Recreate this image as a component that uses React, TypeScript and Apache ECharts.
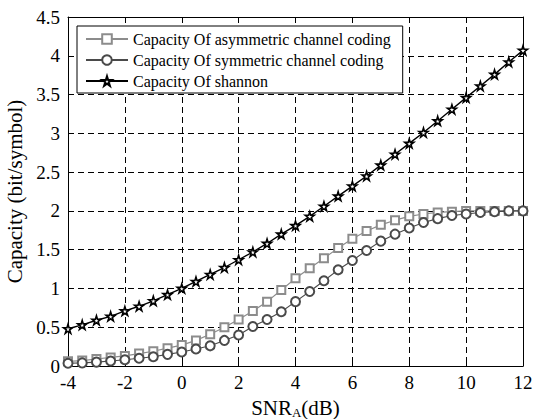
import React, { useEffect, useRef } from "react";
import * as echarts from "echarts";

const snr = [-4, -3.5, -3, -2.5, -2, -1.5, -1, -0.5, 0, 0.5, 1, 1.5, 2, 2.5, 3, 3.5, 4, 4.5, 5, 5.5, 6, 6.5, 7, 7.5, 8, 8.5, 9, 9.5, 10, 10.5, 11, 11.5, 12];
const asymCap = [0.06, 0.07, 0.09, 0.11, 0.13, 0.16, 0.19, 0.23, 0.27, 0.33, 0.41, 0.5, 0.6, 0.71, 0.83, 0.98, 1.13, 1.26, 1.39, 1.52, 1.64, 1.74, 1.82, 1.88, 1.93, 1.96, 1.98, 1.99, 2.0, 2.0, 2.0, 2.0, 2.0];
const symCap = [0.035, 0.04, 0.05, 0.065, 0.08, 0.1, 0.12, 0.15, 0.18, 0.22, 0.26, 0.33, 0.4, 0.51, 0.6, 0.7, 0.83, 0.96, 1.1, 1.24, 1.36, 1.49, 1.61, 1.7, 1.78, 1.85, 1.9, 1.94, 1.96, 1.98, 1.99, 2.0, 2.0];
const shannonCap = [0.48, 0.53, 0.59, 0.64, 0.71, 0.77, 0.84, 0.92, 1.0, 1.09, 1.18, 1.27, 1.37, 1.47, 1.58, 1.7, 1.81, 1.93, 2.06, 2.19, 2.32, 2.45, 2.59, 2.73, 2.87, 3.01, 3.16, 3.31, 3.46, 3.61, 3.76, 3.92, 4.07];
const seriesNames = ["Capacity Of asymmetric channel coding", "Capacity Of symmetric channel coding", "Capacity Of shannon"];

const STAR = "path://M50,0 L61,35 L98,35 L68,57 L79,91 L50,70 L21,91 L32,57 L2,35 L39,35 Z";
const FONT = "'Liberation Serif', 'Times New Roman', serif";

export default function App() {
  const ref = useRef<HTMLDivElement>(null);
  useEffect(() => {
    if (!ref.current) return;
    const chart = echarts.init(ref.current, null, { renderer: "svg" });
    const pairs = (ys: number[]) => snr.map((x, i) => [x, ys[i]]);
    const axisCommon = {
      axisLine: { show: true, onZero: false, lineStyle: { color: "#000", width: 1 } },
      axisTick: { show: true, inside: true, length: 5, lineStyle: { color: "#000" } },
    };
    chart.setOption({
      animation: false,
      backgroundColor: "#fff",
      grid: { left: 68, right: 10, top: 17, bottom: 53, containLabel: false, outerBoundsMode: "none" },
      legend: {
        show: true,
        data: seriesNames,
        orient: "vertical",
        left: 77,
        top: 26,
        padding: [5, 12, 4, 8],
        itemGap: 5,
        itemWidth: 42,
        itemHeight: 12,
        borderColor: "#000",
        borderWidth: 1,
        backgroundColor: "#fff",
        textStyle: { fontFamily: FONT, fontSize: 16, color: "#000" },
      },
      xAxis: [
        {
          type: "value",
          min: -4,
          max: 12,
          interval: 2,
          ...axisCommon,
          axisLabel: { color: "#000", fontFamily: FONT, fontSize: 19, margin: 7 },
          splitLine: { show: true, lineStyle: { color: "#000", type: [6, 4], width: 1 } },
          name: "SNR{sub|A}(dB)",
          nameLocation: "middle",
          nameGap: 30,
          nameTextStyle: {
            color: "#000",
            fontFamily: FONT,
            fontSize: 21,
            lineHeight: 22,
            rich: { sub: { fontFamily: FONT, fontSize: 13, lineHeight: 22, color: "#000", verticalAlign: "bottom", padding: [6, 0, 0, 0] } },
          },
        },
        {
          type: "value",
          position: "top",
          min: -4,
          max: 12,
          interval: 2,
          ...axisCommon,
          axisLabel: { show: false },
          splitLine: { show: false },
        },
      ],
      yAxis: [
        {
          type: "value",
          min: 0,
          max: 4.5,
          interval: 0.5,
          ...axisCommon,
          axisLabel: { color: "#000", fontFamily: FONT, fontSize: 19, margin: 8 },
          splitLine: { show: true, lineStyle: { color: "#000", type: [6, 4], width: 1 } },
          name: "Capacity (bit/symbol)",
          nameLocation: "middle",
          nameGap: 40,
          nameTextStyle: { color: "#000", fontFamily: FONT, fontSize: 21 },
        },
        {
          type: "value",
          position: "right",
          min: 0,
          max: 4.5,
          interval: 0.5,
          ...axisCommon,
          axisLabel: { show: false },
          splitLine: { show: false },
        },
      ],
      series: [
        {
          name: seriesNames[0],
          type: "line",
          data: pairs(asymCap),
          symbol: "emptyRect",
          symbolSize: 8,
          lineStyle: { color: "#8c8c8c", width: 1.2 },
          itemStyle: { color: "#8c8c8c", borderWidth: 1.2 },
          z: 2,
        },
        {
          name: seriesNames[1],
          type: "line",
          data: pairs(symCap),
          symbol: "emptyCircle",
          symbolSize: 9,
          lineStyle: { color: "#4a4a4a", width: 1.1 },
          itemStyle: { color: "#4a4a4a", borderWidth: 1.1 },
          z: 3,
        },
        {
          name: seriesNames[2],
          type: "line",
          data: pairs(shannonCap),
          symbol: STAR,
          symbolSize: 9,
          lineStyle: { color: "#000", width: 1.4 },
          itemStyle: { color: "#fff", borderColor: "#000", borderWidth: 1.6 },
          z: 4,
        },
      ],
    });
    return () => chart.dispose();
  }, []);
  return <div ref={ref} style={{ width: 533, height: 419, position: "absolute", left: 0, top: 0 }} />;
}
